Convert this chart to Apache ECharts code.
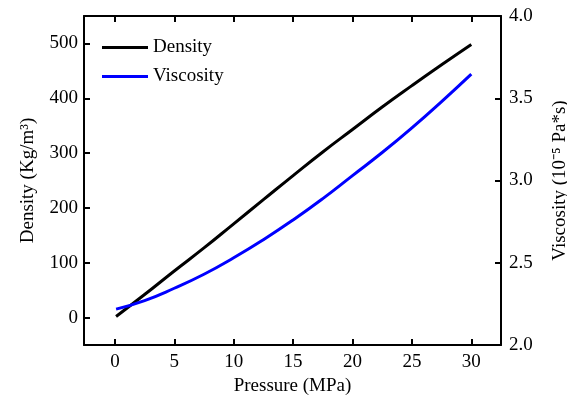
<!DOCTYPE html>
<html>
<head>
<meta charset="utf-8">
<script src="https://cdn.jsdelivr.net/npm/echarts@6/dist/echarts.min.js"></script>
<style>
  html, body { margin: 0; padding: 0; background: #fff; }
  #chart { width: 567px; height: 404px; }
</style>
</head>
<body>
<div id="chart"></div>
<script>
// data
var pressure = [0.1, 2.5, 5, 7.5, 10, 12.5, 15, 17.5, 20, 22.5, 25, 27.5, 30];
var density = [2, 42, 85, 127, 171, 215, 259, 302, 343, 384, 423, 461, 498];
var viscosity = [2.218, 2.27, 2.345, 2.43, 2.53, 2.64, 2.76, 2.89, 3.03, 3.17, 3.32, 3.48, 3.647];
var xTicks = [0, 5, 10, 15, 20, 25, 30];
var densityTicks = [0, 100, 200, 300, 400, 500];

function pairs(xs, ys) {
  var out = [];
  for (var i = 0; i < xs.length; i++) out.push([xs[i], ys[i]]);
  return out;
}

var font = 'Liberation Serif';
var axisLine = { show: true, onZero: false, lineStyle: { color: '#000', width: 2 } };
var tick = { color: '#000', width: 2 };

var chart = echarts.init(document.getElementById('chart'), null, { renderer: 'canvas' });
var option = {
  animation: false,
  textStyle: { fontFamily: font, color: '#000' },
  grid: { left: 84, top: 16, right: 66, bottom: 59, outerBoundsMode: 'none' },
  legend: {
    orient: 'vertical',
    left: 97,
    top: 33,
    icon: 'rect',
    itemWidth: 46,
    itemHeight: 3,
    itemGap: 10,
    textStyle: { fontFamily: font, fontSize: 19, color: '#000' },
    data: ['Density', 'Viscosity']
  },
  xAxis: [{
    type: 'value',
    min: -2.6,
    max: 32.5,
    name: 'Pressure (MPa)',
    nameLocation: 'middle',
    nameGap: 32,
    nameTextStyle: { fontFamily: font, fontSize: 19, color: '#000' },
    axisLine: axisLine,
    axisTick: { inside: true, length: 6, lineStyle: tick, customValues: xTicks },
    axisLabel: { fontFamily: font, fontSize: 19, color: '#000', margin: 8, customValues: xTicks },
    splitLine: { show: false }
  }, {
    type: 'value',
    position: 'top',
    min: -2.6,
    max: 32.5,
    axisLine: axisLine,
    axisTick: { inside: true, length: 6, lineStyle: tick, customValues: xTicks },
    axisLabel: { show: false },
    splitLine: { show: false }
  }],
  yAxis: [{
    type: 'value',
    position: 'left',
    min: -50,
    max: 550,
    name: 'Density (Kg/m\u00b3)',
    nameLocation: 'middle',
    nameGap: 46,
    nameTextStyle: { fontFamily: font, fontSize: 19, color: '#000' },
    axisLine: axisLine,
    axisTick: { inside: true, length: 6, lineStyle: tick, customValues: densityTicks },
    axisLabel: { fontFamily: font, fontSize: 19, color: '#000', margin: 6, customValues: densityTicks },
    splitLine: { show: false }
  }, {
    type: 'value',
    position: 'right',
    min: 2,
    max: 4,
    interval: 0.5,
    name: 'Viscosity (10\u207b\u2075 Pa*s)',
    nameLocation: 'middle',
    nameGap: 50,
    nameTextStyle: { fontFamily: font, fontSize: 19, color: '#000' },
    axisLine: axisLine,
    axisTick: { inside: true, length: 6, lineStyle: tick },
    axisLabel: {
      fontFamily: font, fontSize: 19, color: '#000', margin: 8,
      formatter: function (v) { return v.toFixed(1); }
    },
    splitLine: { show: false }
  }],
  series: [{
    name: 'Density',
    type: 'line',
    yAxisIndex: 0,
    smooth: true,
    showSymbol: false,
    lineStyle: { color: '#000', width: 3 },
    itemStyle: { color: '#000' },
    data: pairs(pressure, density)
  }, {
    name: 'Viscosity',
    type: 'line',
    yAxisIndex: 1,
    smooth: true,
    showSymbol: false,
    lineStyle: { color: '#0000ff', width: 3 },
    itemStyle: { color: '#0000ff' },
    data: pairs(pressure, viscosity)
  }]
};
chart.setOption(option);
</script>
</body>
</html>
